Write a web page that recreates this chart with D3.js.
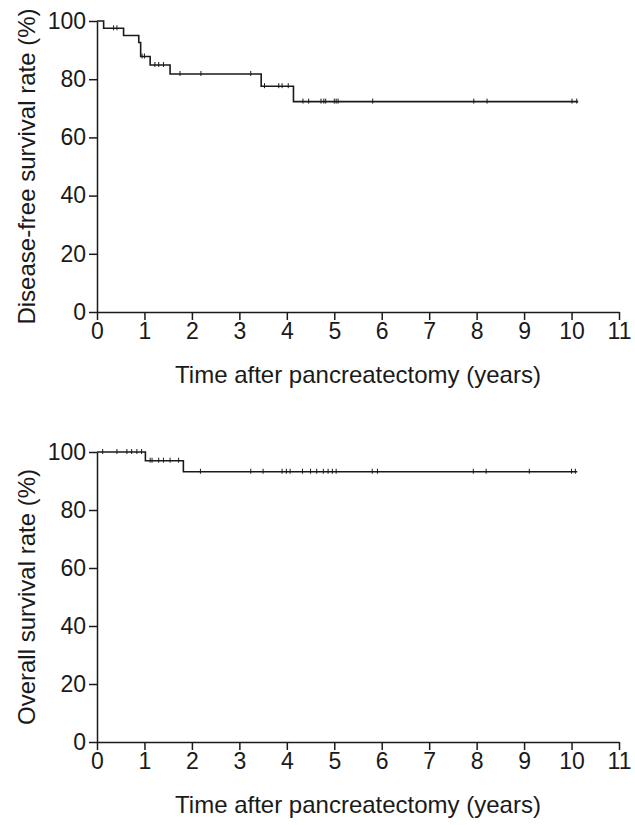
<!DOCTYPE html>
<html>
<head>
<meta charset="utf-8">
<script src="https://cdn.jsdelivr.net/npm/d3@7"></script>
<style>
  body { margin: 0; background: #fff; }
  svg text { font-family: "Liberation Sans", Arial, sans-serif; fill: #1a1a1a; }
  .axis path, .axis line { stroke: #1a1a1a; stroke-width: 1.5; }
  .axis text { font-size: 23px; }
</style>
</head>
<body>
<svg id="chart" width="635" height="825"></svg>
<script>
// x axis ticks (years) and y axis ticks (%)
const xTicks = [0, 1, 2, 3, 4, 5, 6, 7, 8, 9, 10, 11];
const yTicks = [0, 20, 40, 60, 80, 100];

// disease-free survival: step times and levels after each step
const dfsTimes = [0, 0.14, 0.56, 0.88, 0.92, 1.12, 1.54, 3.46, 4.14];
const dfsRates = [100, 97.5, 95.0, 92.6, 87.8, 84.9, 81.8, 77.6, 72.3];
const dfsEnd = 10.14;
const dfsCensored = [0.35, 0.42, 0.95, 1.0, 1.22, 1.3, 1.4, 1.75, 2.19, 3.24, 3.53, 3.83, 3.9, 4.03,
                     4.34, 4.46, 4.72, 4.78, 4.82, 5.0, 5.04, 5.08, 5.81, 7.94, 8.22, 10.01, 10.11];

// overall survival
const osTimes = [0, 1.02, 1.82];
const osRates = [100, 97.0, 93.2];
const osEnd = 10.12;
const osCensored = [0.12, 0.42, 0.63, 0.73, 0.84, 0.94, 1.12, 1.16, 1.3, 1.4, 1.54, 1.72, 2.18, 3.24, 3.5,
                    3.9, 3.99, 4.07, 4.33, 4.5, 4.63, 4.77, 4.87, 4.96, 5.04, 5.8, 5.91, 7.93, 8.2, 9.11, 10.0, 10.08];

const svg = d3.select('#chart');
const xScale = d3.scaleLinear([0, 11], [97, 619]);

function drawKM(top, bottom, times, rates, end, censored, yLabel) {
    const yScale = d3.scaleLinear([0, 100], [bottom, top]);
    const g = svg.append('g');

    const xAxis = d3.axisBottom(xScale).tickValues(xTicks).tickSizeInner(8).tickSizeOuter(0).tickPadding(3);
    g.append('g').attr('class', 'x axis')
        .attr('transform', `translate(0,${bottom})`)
        .call(xAxis);

    const yAxis = d3.axisLeft(yScale).tickValues(yTicks).tickSizeInner(8).tickSizeOuter(0).tickPadding(3);
    g.append('g').attr('class', 'y axis')
        .attr('transform', `translate(${xScale(0)},0)`)
        .call(yAxis);

    // step curve
    const pts = times.map((t, i) => [t, rates[i]]);
    pts.push([end, rates[rates.length - 1]]);
    const line = d3.line().x(d => xScale(d[0])).y(d => yScale(d[1])).curve(d3.curveStepAfter);
    g.append('path').datum(pts)
        .attr('d', line)
        .attr('fill', 'none')
        .attr('stroke', '#1a1a1a')
        .attr('stroke-width', 1.6);

    // censor marks
    const rateAt = t => rates[d3.bisectRight(times, t) - 1];
    g.selectAll('.cens').data(censored).join('line')
        .attr('class', 'cens')
        .attr('x1', d => xScale(d)).attr('x2', d => xScale(d))
        .attr('y1', d => yScale(rateAt(d)) - 3)
        .attr('y2', d => yScale(rateAt(d)) + 2)
        .attr('stroke', '#1a1a1a')
        .attr('stroke-width', 1);

    g.append('text')
        .attr('x', (xScale(0) + xScale(11)) / 2)
        .attr('y', bottom + 71)
        .attr('text-anchor', 'middle')
        .style('font-size', '24px')
        .text('Time after pancreatectomy (years)');

    g.append('text')
        .attr('transform', `translate(35,${(top + bottom) / 2}) rotate(-90)`)
        .attr('text-anchor', 'middle')
        .style('font-size', '24px')
        .text(yLabel);
}

drawKM(21, 312, dfsTimes, dfsRates, dfsEnd, dfsCensored, 'Disease-free survival rate (%)');
drawKM(452, 742, osTimes, osRates, osEnd, osCensored, 'Overall survival rate (%)');
</script>
</body>
</html>
